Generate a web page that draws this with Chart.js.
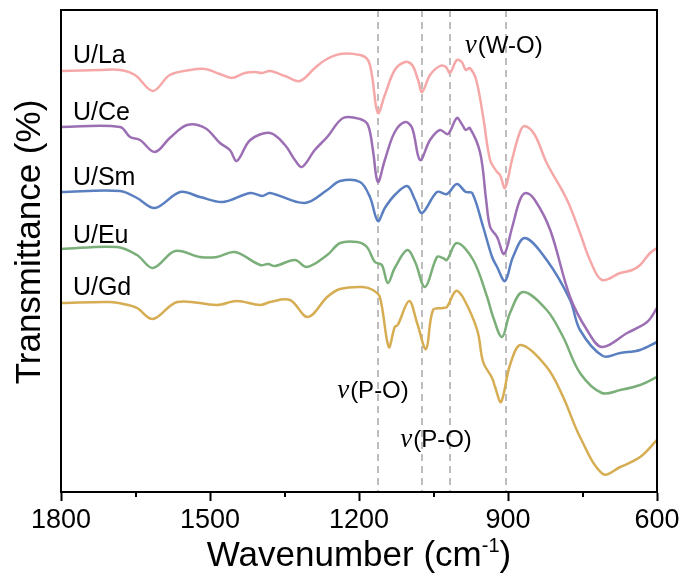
<!DOCTYPE html>
<html>
<head>
<meta charset="utf-8">
<script src="https://cdn.jsdelivr.net/npm/chart.js@4.4.1/dist/chart.umd.min.js"></script>
<style>
  html, body { margin: 0; padding: 0; background: #fff; }
</style>
</head>
<body>
<canvas id="ftir" width="686" height="586"></canvas>
<script>
// wavenumbers (cm-1) and offset transmittance, one pair per sample
const laWn = [1800,1721,1681,1651,1615,1581,1540,1510,1480,1456,1430,1409,1395,1379,1349,1319,1289,1268,1238,1198,1182,1174,1162,1148,1128,1107,1093,1081,1073,1057,1037,1025,1017,1003,993,985,977,964,950,936,922,916,906,892,876,866,846,822,781,755,735,711,674,650,634,614,600];
const laT  = [421,422,422,417,401,417,422,423,418,414,419,420,419,421,416,411,424,432,438,437,432,417,379,397,422,430,427,412,400,417,426,425,419,432,430,422,424,412,375,332,320,317,304,332,360,366,357,329,292,259,232,212,219,222,227,239,244];

const ceWn = [1800,1681,1661,1641,1611,1581,1546,1510,1480,1460,1446,1419,1379,1349,1329,1315,1289,1264,1232,1198,1182,1172,1162,1148,1128,1107,1093,1077,1057,1037,1021,1003,993,985,977,956,944,936,922,908,892,876,864,846,815,775,741,711,660,620,600];
const ceT  = [365,365,355,352,340,354,367,364,349,342,331,352,359,347,332,325,342,355,374,373,367,342,310,332,360,370,364,332,352,362,358,374,368,362,364,339,292,265,255,238,264,292,299,292,262,195,162,145,159,170,184];

const smWn = [1800,1681,1647,1611,1560,1520,1474,1419,1395,1379,1309,1264,1238,1198,1178,1162,1148,1128,1103,1087,1073,1043,1023,1003,985,972,950,932,922,906,890,866,822,775,755,709,674,634,600];
const smT  = [300,301,294,284,300,295,290,299,296,299,289,302,311,310,295,271,284,297,306,292,279,300,298,308,300,299,265,235,225,211,235,254,232,192,162,136,139,142,150];

const euWn = [1800,1687,1647,1615,1570,1520,1486,1450,1399,1383,1369,1329,1305,1264,1238,1204,1184,1168,1154,1142,1128,1103,1087,1067,1043,1031,1023,1003,970,942,930,912,896,870,822,789,755,711,674,634,600];
const euT  = [243,245,237,224,241,235,235,240,227,228,226,232,225,237,249,250,245,230,227,209,224,242,230,205,235,234,232,249,232,195,175,155,179,200,182,155,119,99,102,107,115];

const gdWn = [1800,1701,1675,1647,1615,1566,1486,1446,1399,1379,1339,1303,1264,1238,1192,1172,1158,1140,1128,1122,1099,1083,1065,1051,1031,1023,1005,991,962,950,932,926,914,896,874,822,789,755,709,674,634,600];
const gdT  = [189,190,188,184,173,190,187,191,187,190,192,175,195,203,205,202,195,145,165,167,191,169,143,182,184,185,201,195,162,130,114,105,90,127,147,125,95,55,18,25,35,52];

const sampleNames = ['U/La', 'U/Ce', 'U/Sm', 'U/Eu', 'U/Gd'];
const sampleColors = ['#f5a8a7', '#9c6fb4', '#5a7fc1', '#7baf79', '#d6ad52'];
const nameLevels = [429, 372, 307, 249, 197];     // baseline of each sample name
const bandLines = [1162, 1073, 1017, 905];        // dashed guide lines
const xTicks = [1800, 1500, 1200, 900, 600];
const minorTicks = [1650, 1350, 1050, 750];

const series = [[laWn, laT], [ceWn, ceT], [smWn, smT], [euWn, euT], [gdWn, gdT]];

const SANS = '"Liberation Sans", Arial, sans-serif';

// notes on the bands: [wavenumber, level, text]
const bandNotes = [
  [987, 439, '(W-O)'],
  [1244, 94, '(P-O)'],
  [1117, 45, '(P-O)']
];

const decor = {
  id: 'decor',
  beforeDatasetsDraw(chart) {
    const { ctx, chartArea: a, scales: { x } } = chart;
    ctx.save();
    ctx.strokeStyle = '#bdbdbd';
    ctx.lineWidth = 2;
    ctx.setLineDash([7, 5]);
    bandLines.forEach(v => {
      const px = Math.round(x.getPixelForValue(v));
      ctx.beginPath();
      ctx.moveTo(px, a.top);
      ctx.lineTo(px, a.bottom);
      ctx.stroke();
    });
    ctx.restore();
  },
  afterDraw(chart) {
    const { ctx, chartArea: a, scales: { x, y } } = chart;
    ctx.save();
    // box
    ctx.strokeStyle = '#000';
    ctx.lineWidth = 2;
    ctx.strokeRect(a.left, a.top, a.right - a.left, a.bottom - a.top);
    // minor ticks
    minorTicks.forEach(v => {
      const px = Math.round(x.getPixelForValue(v));
      ctx.beginPath();
      ctx.moveTo(px, a.bottom);
      ctx.lineTo(px, a.bottom + 5);
      ctx.stroke();
    });

    ctx.fillStyle = '#000';
    ctx.textBaseline = 'alphabetic';
    ctx.textAlign = 'left';

    // sample names
    ctx.font = '25px ' + SANS;
    sampleNames.forEach((n, i) => {
      ctx.fillText(n, x.getPixelForValue(1776), y.getPixelForValue(nameLevels[i]));
    });

    // band notes, greek nu in serif italic
    bandNotes.forEach(([wn, lv, txt]) => {
      let px = x.getPixelForValue(wn);
      const py = y.getPixelForValue(lv);
      ctx.font = 'italic 27px "Liberation Serif", "Times New Roman", serif';
      ctx.fillText('ν', px, py);
      px += ctx.measureText('ν').width + 1;
      ctx.font = '24px ' + SANS;
      ctx.fillText(txt, px, py);
    });

    // x title with superscript
    const big = '35px ' + SANS, small = '20px ' + SANS;
    ctx.font = big;
    const w1 = ctx.measureText('Wavenumber (cm').width;
    const w3 = ctx.measureText(')').width;
    ctx.font = small;
    const w2 = ctx.measureText('-1').width;
    let tx = (a.left + a.right) / 2 - (w1 + w2 + w3) / 2;
    const ty = 566;
    ctx.font = big;
    ctx.fillText('Wavenumber (cm', tx, ty);
    ctx.font = small;
    ctx.fillText('-1', tx + w1, ty - 14);
    ctx.font = big;
    ctx.fillText(')', tx + w1 + w2, ty);

    // y title
    ctx.translate(40, (a.top + a.bottom) / 2 - 9);
    ctx.rotate(-Math.PI / 2);
    ctx.textAlign = 'center';
    ctx.font = big;
    ctx.fillText('Transmittance (%)', 0, 0);
    ctx.restore();
  }
};

const ctx = document.getElementById('ftir').getContext('2d');
new Chart(ctx, {
  type: 'line',
  data: {
    datasets: series.map(([wn, t], i) => ({
      label: sampleNames[i],
      data: wn.map((v, k) => ({ x: v, y: t[k] })),
      borderColor: sampleColors[i],
      borderWidth: 2.5,
      pointRadius: 0,
      fill: false,
      tension: 0.35
    }))
  },
  options: {
    responsive: false,
    animation: false,
    layout: { padding: { top: 10, right: 29, left: 0, bottom: 0 } },
    plugins: { legend: { display: false }, tooltip: { enabled: false } },
    scales: {
      x: {
        type: 'linear',
        reverse: true,
        min: 600,
        max: 1800,
        afterFit: s => { s.height = 94; },
        afterBuildTicks: s => { s.ticks = xTicks.map(v => ({ value: v })); },
        ticks: {
          color: '#000', font: { size: 27, family: SANS }, padding: 3,
          maxRotation: 0, autoSkip: false,
          callback: v => String(v)
        },
        grid: { drawOnChartArea: false, drawTicks: true, tickLength: 9, tickColor: '#000', tickWidth: 2 },
        border: { display: true, color: '#000', width: 2 }
      },
      y: {
        min: 0,
        max: 482,
        afterFit: s => { s.width = 61; },
        ticks: { display: false },
        grid: { display: false },
        border: { display: false }
      }
    }
  },
  plugins: [decor]
});
</script>
</body>
</html>
